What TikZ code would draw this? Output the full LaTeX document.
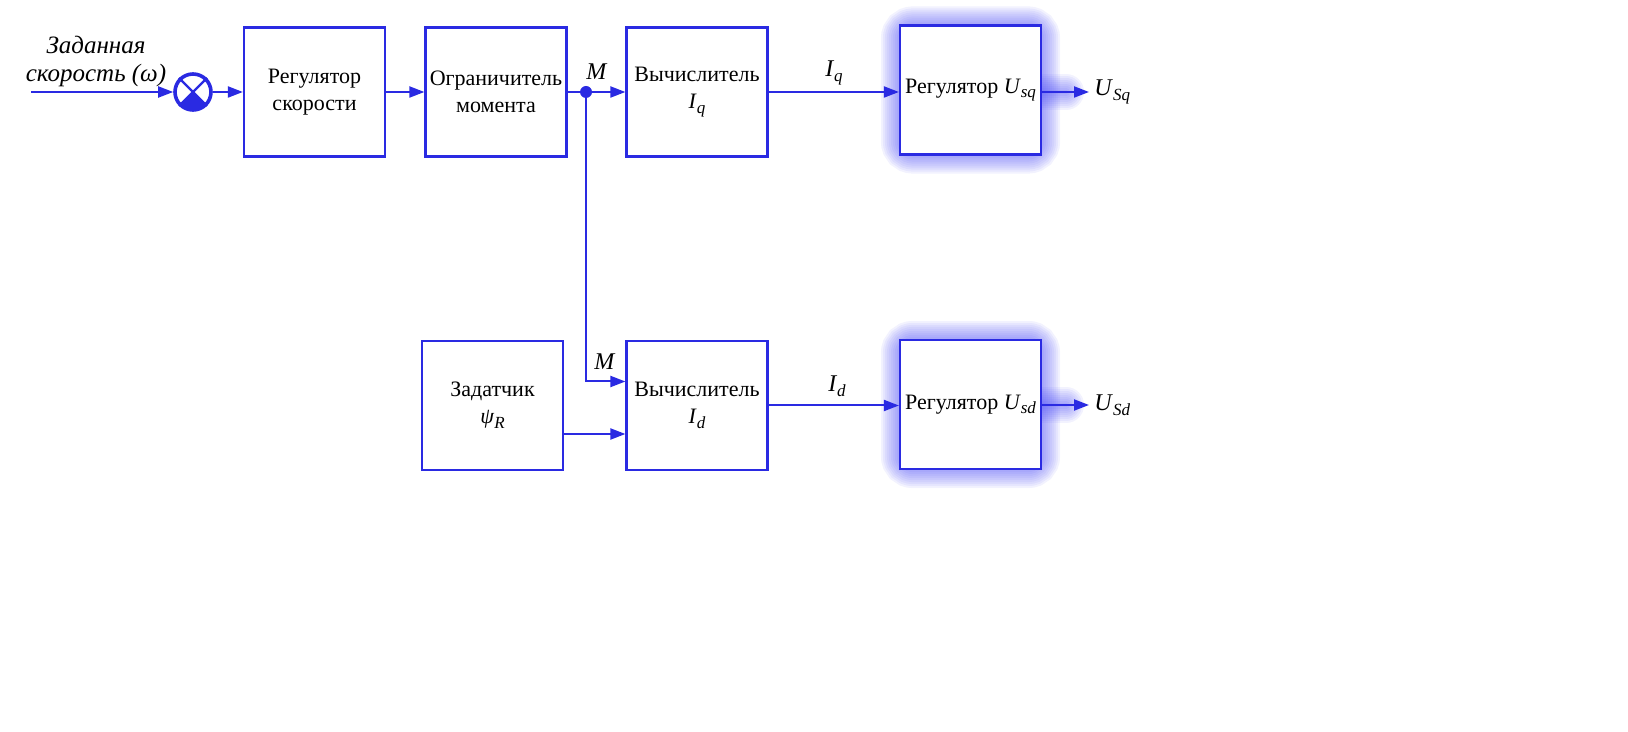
\documentclass[tikz,border=0pt]{standalone}
\usepackage{fontspec}
\setmainfont{Liberation Serif}
\usepackage{tikz}
\usetikzlibrary{arrows.meta, backgrounds}
\definecolor{ctl_blue}{HTML}{2A2AE2}
\definecolor{ctl_glow}{HTML}{4A4AF5}

\newcommand{\vsub}[2]{\textit{#1}\raisebox{-0.45ex}{\fontsize{8.5}{10}\selectfont\itshape #2}}

\begin{document}
\begin{tikzpicture}[x=0.5pt, y=-0.5pt,
    blk/.style={draw=ctl_blue, line width=1.1pt, fill=white, minimum width=70.5pt,
        minimum height=64.5pt, align=center, inner sep=0pt,
        font=\fontsize{11}{13.5}\selectfont},
    sig/.style={draw=ctl_blue, line width=1pt, -{Triangle[length=7.5pt,width=5.5pt]}},
    lbl/.style={font=\fontsize{12}{14}\selectfont, inner sep=0pt},
    glow/.style={ctl_glow, opacity=0.07, rounded corners=7pt}]

        \useasboundingbox (0,0) rectangle (1628,732);

        % upper channel
        \coordinate (in) at (31,92);
        \node[circle, draw=ctl_blue, line width=1.8pt, minimum size=18pt, inner sep=0pt] (sum) at (193,92) {};
        \node[blk] (rs) at (314.5,92) {Регулятор\\скорости};
        \node[blk] (lim) at (496,92) {Ограничитель\\момента};
        \node[blk] (calcq) at (697,92) {Вычислитель\\\vsub{I}{q}};
        \node[blk] (regq) at (970.5,90) {Регулятор \vsub{U}{sq}};

        % lower channel
        \node[blk] (zad) at (492.5,405.5) {Задатчик\\\vsub{ψ}{R}};
        \node[blk] (calcd) at (697,405.5) {Вычислитель\\\vsub{I}{d}};
        \node[blk] (regd) at (970.5,404.5) {Регулятор \vsub{U}{sd}};

        \node[lbl, align=center, font=\fontsize{12.5}{14}\selectfont\itshape] (ref) at (96,61) {Заданная\\скорость (ω)};

        % summing junction
        \draw[ctl_blue, line width=1.2pt] (sum.north west) -- (sum.south east) (sum.north east) -- (sum.south west);
        \begin{scope}
            \clip (sum.center) -- ++(30,30) -- ++(-60,0) -- cycle;
            \fill[ctl_blue] (sum.center) circle (9pt);
        \end{scope}

        \draw[sig] (in) -- (sum.west);
        \draw[sig] (sum.east) -- (rs.west);
        \draw[sig] (rs) -- (lim);
        \coordinate (br) at (586,92);
        \draw[sig] (lim.east) -- (calcq.west);
        \fill[ctl_blue] (br) circle (3pt);
        \draw[sig] (calcq) -- (regq.west |- calcq);
        \draw[sig] (br) |- ([yshift=12pt]calcd.west);
        \coordinate (zout) at ([yshift=-14.25pt]zad.east);
        \draw[sig] (zout) -- (zout -| calcd.west);
        \draw[sig] (calcd) -- (regd.west |- calcd);

        \coordinate (uq) at (1089,92);
        \coordinate (ud) at (1089,405);
        \draw[sig] (regq.east |- uq) -- (uq);
        \draw[sig] (regd.east |- ud) -- (ud);

        \node[lbl, anchor=west] (luq) at (1094,92) {\vsub{U}{Sq}};
        \node[lbl, anchor=west] (lud) at (1094,405) {\vsub{U}{Sd}};
        \node[lbl] (mq) at (597,72) {\textit{M}};
        \node[lbl] (md) at (605,362) {\textit{M}};
        \node[lbl] (iq) at (834,73) {\vsub{I}{q}};
        \node[lbl] (id) at (837,386) {\vsub{I}{d}};

        \begin{scope}[on background layer]
            \foreach \w in {36,32,...,4} {
                \draw[glow, line width=\w*0.5pt] (regq.north west) rectangle (regq.south east);
                \draw[glow, line width=\w*0.5pt] (regd.north west) rectangle (regd.south east);
                \draw[glow, line width=\w*0.5pt, line cap=round] (regq.east |- uq) -- ++(24,0);
                \draw[glow, line width=\w*0.5pt, line cap=round] (regd.east |- ud) -- ++(24,0);
            }
        \end{scope}

\end{tikzpicture}
\end{document}
